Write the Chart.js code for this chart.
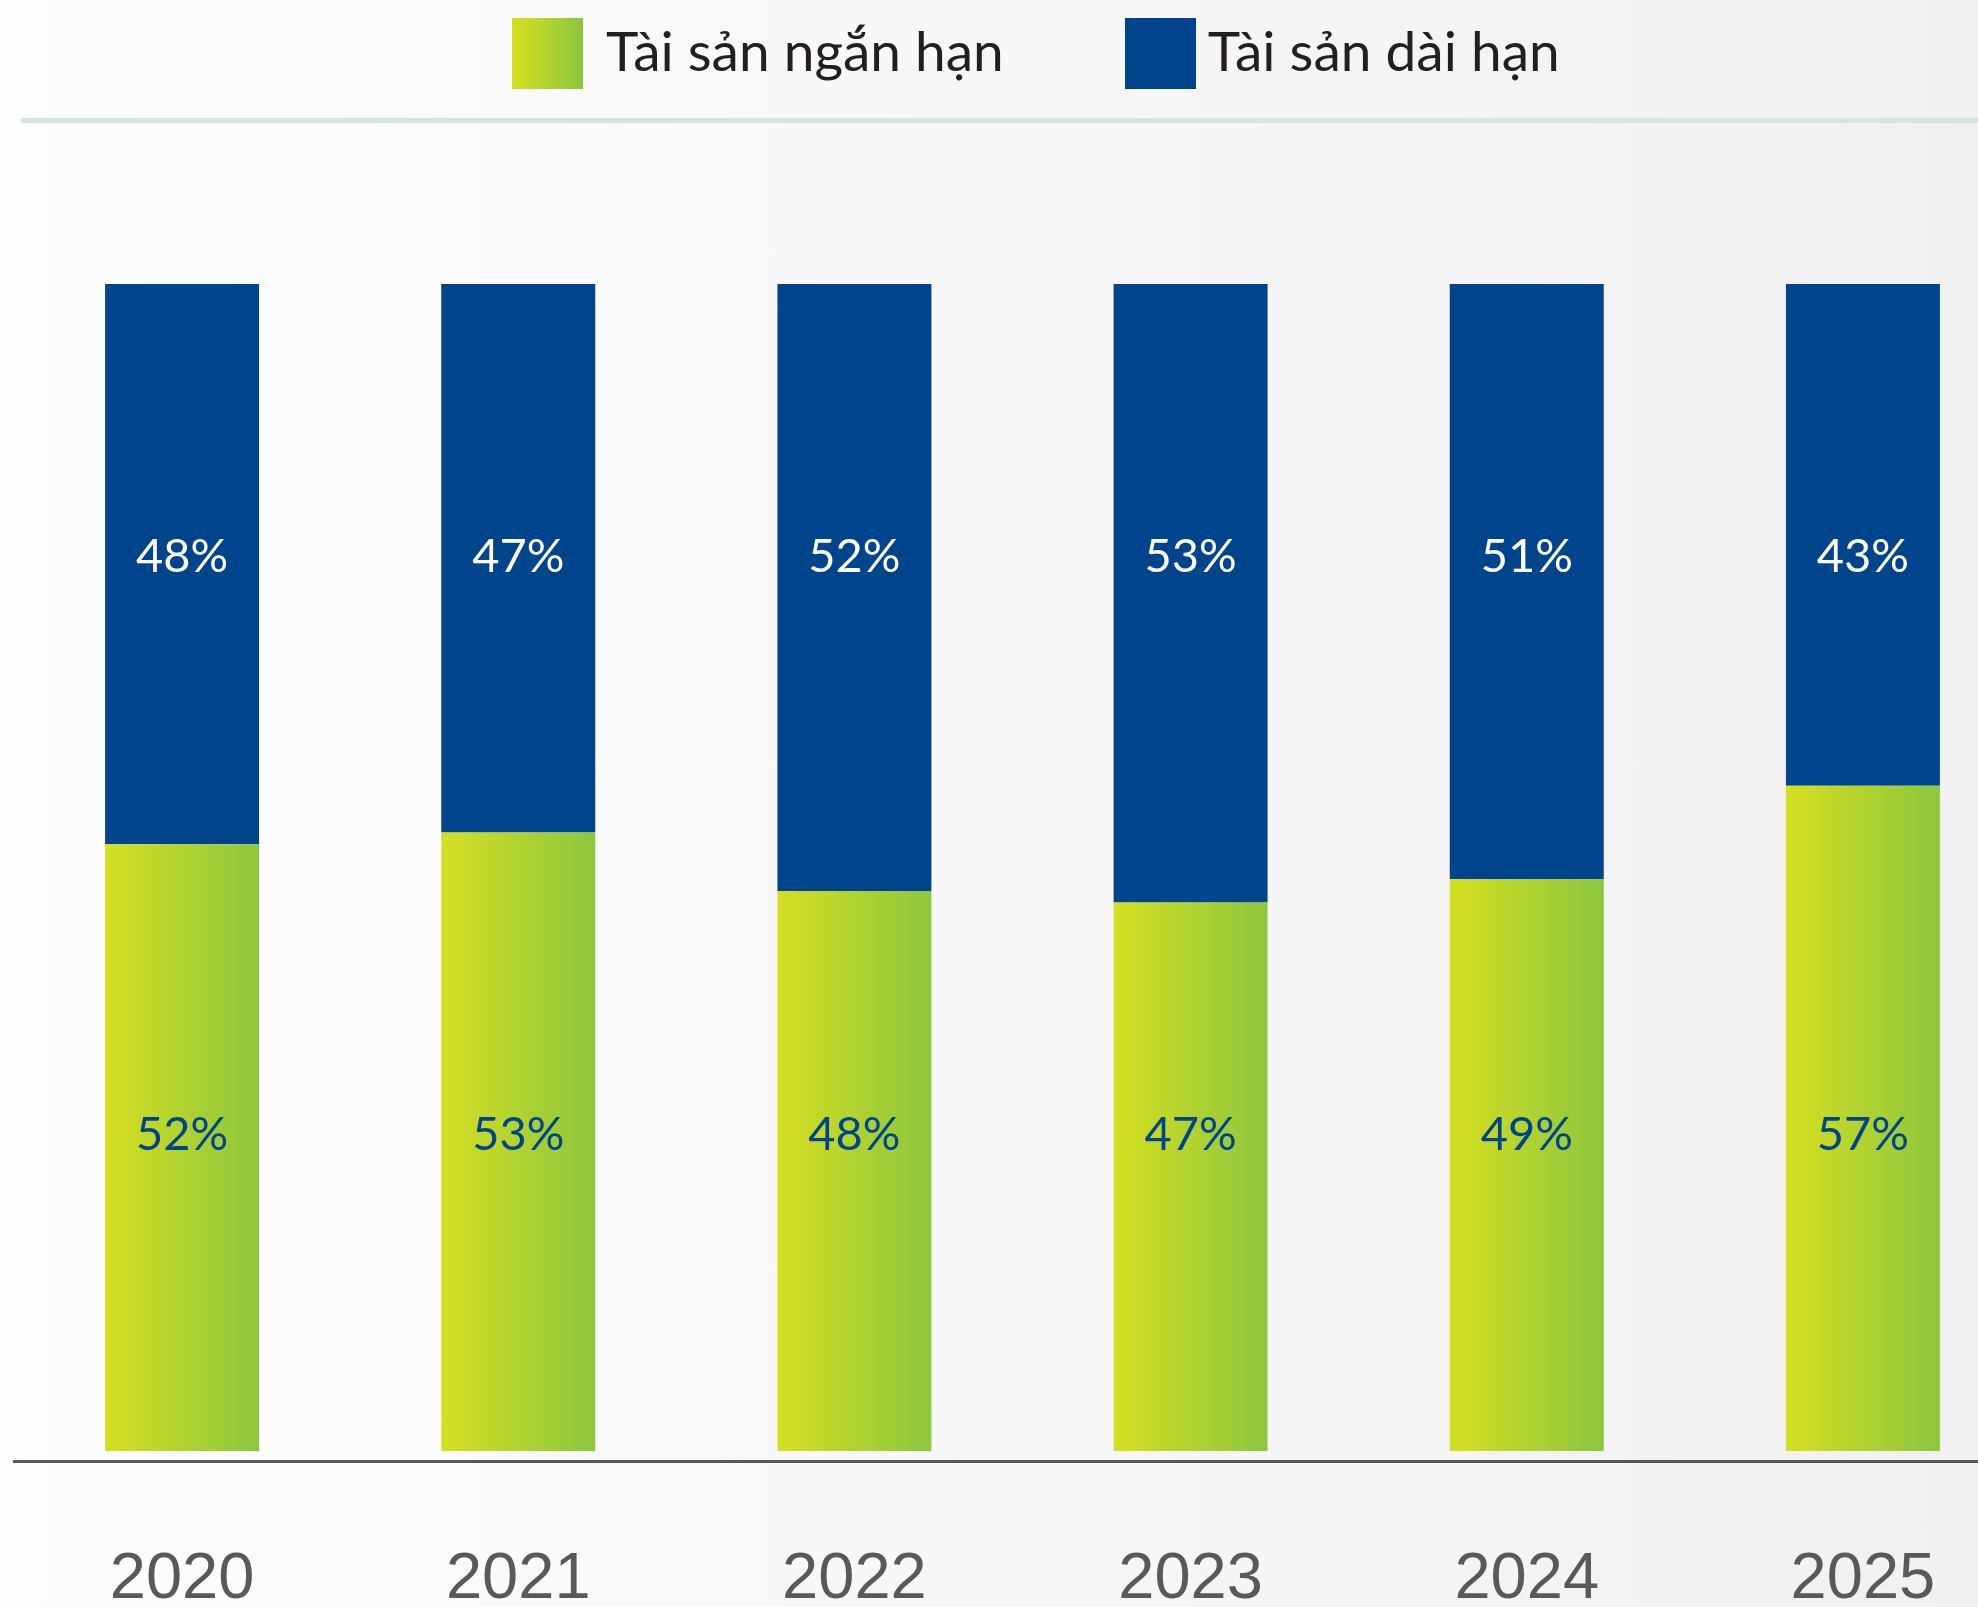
<!DOCTYPE html>
<html lang="vi">
<head>
    <meta charset="UTF-8">
    <title>Cơ cấu tài sản</title>
    <script src="https://cdn.jsdelivr.net/npm/chart.js"></script>
    <style>
        html, body {
            margin: 0;
            width: 1978px;
            height: 1607px;
            overflow: hidden;
            background: linear-gradient(to right, #fdfdfd, #f1f1f1);
            font-family: Lato, "Noto Sans", sans-serif;
        }
        .legend {
            position: absolute;
            top: 18px;
            left: 512px;
            display: flex;
            align-items: center;
            height: 71px;
        }
        .legend .box {
            width: 71px;
            height: 71px;
        }
        .legend .txt {
            font-size: 55px;
            line-height: 71px;
            color: #231f20;
            position: relative;
            top: -3px;
        }
        .rule {
            position: absolute;
            top: 118px;
            left: 21px;
            right: 0;
            height: 5px;
            background: #d4e4e1;
        }
        .chart-wrap {
            position: absolute;
            left: 0;
            top: 0;
            width: 2040px;
            height: 1703px;
        }
    </style>
</head>
<body>
    <div class="legend">
        <div class="box" style="background: linear-gradient(to right, #d6df21, #8dc63f);"></div>
        <span class="txt" style="margin-left: 23px;">Tài sản ngắn hạn</span>
        <div class="box" style="background: #00448c; margin-left: 121px;"></div>
        <span class="txt" style="margin-left: 12px;">Tài sản dài hạn</span>
    </div>
    <div class="rule"></div>
    <div class="chart-wrap">
        <canvas id="assetChart"></canvas>
    </div>

    <script>
        // Số liệu
        const years = ['2020', '2021', '2022', '2023', '2024', '2025'];
        const shortTerm = [52, 53, 48, 47, 49, 57];
        const longTerm = [48, 47, 52, 53, 51, 43];

        const BAR_PCT = 0.458;

        // gradient ngang cho từng cột xanh lá
        function greenFill(ctx) {
            const chart = ctx.chart;
            const xs = chart.scales.x;
            if (!chart.chartArea || !xs) return '#b4d431';
            const cx = xs.getPixelForValue(ctx.dataIndex);
            const half = (xs.width / years.length) * BAR_PCT / 2;
            const g = chart.ctx.createLinearGradient(cx - half, 0, cx + half, 0);
            g.addColorStop(0, '#d6df21');
            g.addColorStop(1, '#8dc63f');
            return g;
        }

        // nhãn % đặt ở hai mức cố định như bản gốc
        const pctLabels = {
            id: 'pctLabels',
            afterDatasetsDraw(chart, args, opts) {
                const ctx = chart.ctx;
                const ys = chart.scales.y;
                ctx.save();
                ctx.font = '47px Lato, "Noto Sans", sans-serif';
                ctx.textAlign = 'center';
                ctx.textBaseline = 'middle';
                chart.data.datasets.forEach((ds, di) => {
                    const meta = chart.getDatasetMeta(di);
                    const y = ys.getPixelForValue(opts.levels[di]);
                    ctx.fillStyle = opts.colors[di];
                    meta.data.forEach((bar, i) => {
                        ctx.fillText(ds.data[i] + '%', bar.x, y);
                    });
                });
                ctx.restore();
            }
        };

        new Chart(document.getElementById('assetChart'), {
            type: 'bar',
            data: {
                labels: years,
                datasets: [{
                    label: 'Tài sản ngắn hạn',
                    data: shortTerm,
                    backgroundColor: greenFill,
                    categoryPercentage: 1,
                    barPercentage: BAR_PCT
                }, {
                    label: 'Tài sản dài hạn',
                    data: longTerm,
                    backgroundColor: '#00448c',
                    categoryPercentage: 1,
                    barPercentage: BAR_PCT
                }]
            },
            options: {
                responsive: true,
                maintainAspectRatio: false,
                animation: false,
                layout: {
                    padding: { top: 284, left: 14, right: 9, bottom: 4 }
                },
                scales: {
                    x: {
                        stacked: true,
                        grid: { display: false, drawTicks: false },
                        border: { display: true, color: '#58595b', width: 3 },
                        ticks: {
                            color: '#58595b',
                            padding: 80,
                            font: { family: '"Liberation Sans", Arial, sans-serif', size: 65 }
                        }
                    },
                    y: {
                        stacked: true,
                        display: false,
                        min: -0.85,
                        max: 100
                    }
                },
                plugins: {
                    legend: { display: false },
                    tooltip: { enabled: false },
                    pctLabels: {
                        levels: [27.1, 76.6],
                        colors: ['#00448c', '#ffffff']
                    }
                }
            },
            plugins: [pctLabels]
        });
    </script>
</body>
</html>
